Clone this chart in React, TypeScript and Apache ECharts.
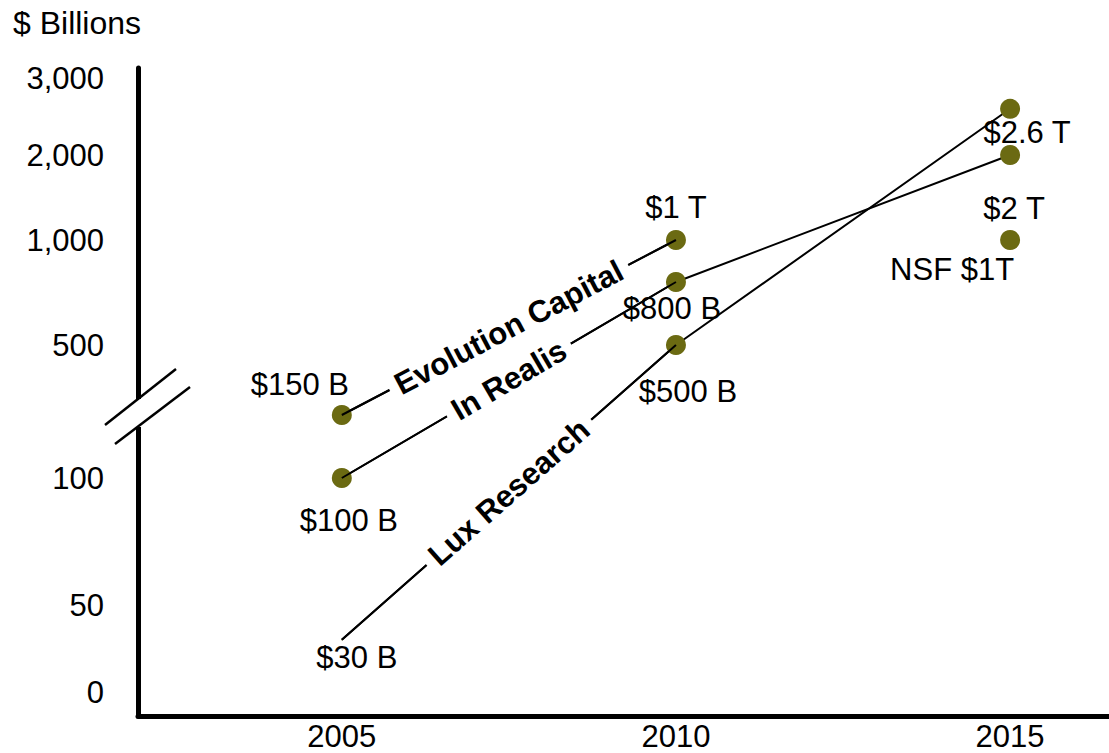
import React, { useEffect, useRef } from "react";
import * as echarts from "echarts";

// Forecast years on the horizontal axis
const years = [2005, 2010, 2015];

// Nanotech market size forecasts, $ billions
const evolutionCapital = [150, 1000];
const inRealis = [100, 800, 2000];
const luxResearch = [30, 500, 2600];
const nsfYears = [2015];
const nsfForecast = [1000];

// Labelled values on the broken vertical axis and on the year axis
const yTickValues = [0, 50, 100, 500, 1000, 2000, 3000];
const xTickValues = [2005, 2010, 2015];

// Broken vertical scale: stops (in $ billions) and the axis height reached at
// each stop; the range between the two break edges is squeezed into the break.
const scaleStops = [0, 50, 100, 150, 400, 500, 1000, 2000, 3000];
const scaleHeights = [24, 111, 238, 301, 324, 371, 476, 561, 638];

function toAxis(v: number): number {
  const s = scaleStops;
  for (let i = 0; i < s.length - 1; i++) {
    if (v <= s[i + 1] || i === s.length - 2) {
      const t = (v - s[i]) / (s[i + 1] - s[i]);
      return scaleHeights[i] + t * (scaleHeights[i + 1] - scaleHeights[i]);
    }
  }
  return 0;
}

const money = (v: number) => (v >= 1000 ? `$${v / 1000} T` : `$${v} B`);

const FONT = "'Liberation Sans', Arial, Helvetica, sans-serif";
const DOT = "#6b6a12";
const FONT_SIZE = 31;

// Where each value label sits relative to its point
const evolutionLabelOffsets = [[-42, -31], [0, -33]];
const inRealisLabelOffsets = [[7, 42], [-4, 26], [4, 53]];
const luxLabelOffsets = [[15, 18], [12, 46], [17, 24]];
const nsfLabelOffsets = [[-58, 29]];

function forecastLine(
  name: string,
  values: number[],
  offsets: number[][],
  firstWithoutDot = false
) {
  return {
    type: "line",
    name,
    symbol: "circle",
    itemStyle: { color: DOT, opacity: 1 },
    lineStyle: { color: "#000", width: 2 },
    label: {
      show: true,
      position: "inside",
      formatter: (p: any) => money(p.value[2]),
      fontSize: FONT_SIZE,
      fontFamily: FONT,
      color: "#000",
    },
    emphasis: { disabled: true },
    data: values.map((v, i) => ({
      value: [years[i], toAxis(v), v],
      symbolSize: firstWithoutDot && i === 0 ? 1 : 20,
      label: { offset: offsets[i] },
    })),
    markLine: {
      silent: true,
      symbol: ["none", "none"],
      lineStyle: { color: "#000", width: 2, type: "solid" },
      label: {
        show: true,
        position: "middle",
        distance: 0,
        verticalAlign: "middle",
        formatter: name,
        fontSize: FONT_SIZE,
        fontWeight: "bold",
        fontFamily: FONT,
        color: "#000",
        backgroundColor: "#fff",
        padding: [0, 8],
        lineHeight: 30,
      },
      emphasis: { disabled: true },
      data: [
        [
          { coord: [years[0], toAxis(values[0])] },
          { coord: [years[1], toAxis(values[1])] },
        ],
      ],
    },
  };
}

export default function App() {
  const ref = useRef<HTMLDivElement>(null);

  useEffect(() => {
    if (!ref.current) return;
    const chart = echarts.init(ref.current, undefined, { renderer: "svg" });

    const yLabelPositions = yTickValues.map(toAxis);

    chart.setOption({
      animation: false,
      backgroundColor: "#fff",
      title: {
        text: "$ Billions",
        left: 8,
        top: 2,
        textStyle: { fontSize: 32, fontWeight: "normal", fontFamily: FONT, color: "#000" },
      },
      grid: { left: 138, right: 0, top: 68, bottom: 37 },
      xAxis: {
        type: "value",
        min: 2001.95,
        max: 2016.48,
        axisLine: { show: true, lineStyle: { color: "#000", width: 5 } },
        axisTick: { show: false },
        splitLine: { show: false },
        axisLabel: {
          customValues: xTickValues,
          formatter: (v: number) => String(v),
          fontSize: FONT_SIZE,
          fontFamily: FONT,
          color: "#000",
          margin: 6,
          lineHeight: 28,
        },
      },
      yAxis: {
        type: "value",
        min: 0,
        max: 648,
        axisLine: { show: true, lineStyle: { color: "#000", width: 5 } },
        axisTick: { show: false },
        splitLine: { show: false },
        axisLabel: {
          customValues: yLabelPositions,
          formatter: (v: number) => {
            let best = 0;
            yLabelPositions.forEach((p, i) => {
              if (Math.abs(p - v) < Math.abs(yLabelPositions[best] - v)) best = i;
            });
            return yTickValues[best].toLocaleString("en-US");
          },
          fontSize: FONT_SIZE,
          fontFamily: FONT,
          color: "#000",
          margin: 34,
        },
      },
      graphic: [
        // axis break between 150 and 400
        { type: "rect", shape: { x: 130, y: 399, width: 16, height: 28 }, style: { fill: "#fff" }, z: 100 },
        { type: "line", shape: { x1: 105, y1: 425, x2: 176, y2: 369 }, style: { stroke: "#000", lineWidth: 2.5 }, z: 101 },
        { type: "line", shape: { x1: 115, y1: 444, x2: 190, y2: 387 }, style: { stroke: "#000", lineWidth: 2.5 }, z: 101 },
      ],
      series: [
        forecastLine("Evolution Capital", evolutionCapital, evolutionLabelOffsets),
        forecastLine("In Realis", inRealis, inRealisLabelOffsets),
        forecastLine("Lux Research", luxResearch, luxLabelOffsets, true),
        {
          type: "scatter",
          name: "NSF",
          symbol: "circle",
          symbolSize: 20,
          itemStyle: { color: DOT, opacity: 1 },
          emphasis: { disabled: true },
          label: {
            show: true,
            position: "inside",
            formatter: (p: any) => `NSF $${p.value[2] / 1000}T`,
            fontSize: FONT_SIZE,
            fontFamily: FONT,
            color: "#000",
          },
          data: nsfForecast.map((v, i) => ({
            value: [nsfYears[i], toAxis(v), v],
            label: { offset: nsfLabelOffsets[i] },
          })),
        },
      ],
    });

    return () => chart.dispose();
  }, []);

  return (
    <div
      ref={ref}
      style={{ position: "absolute", left: 0, top: 0, width: 1109, height: 753 }}
    />
  );
}
